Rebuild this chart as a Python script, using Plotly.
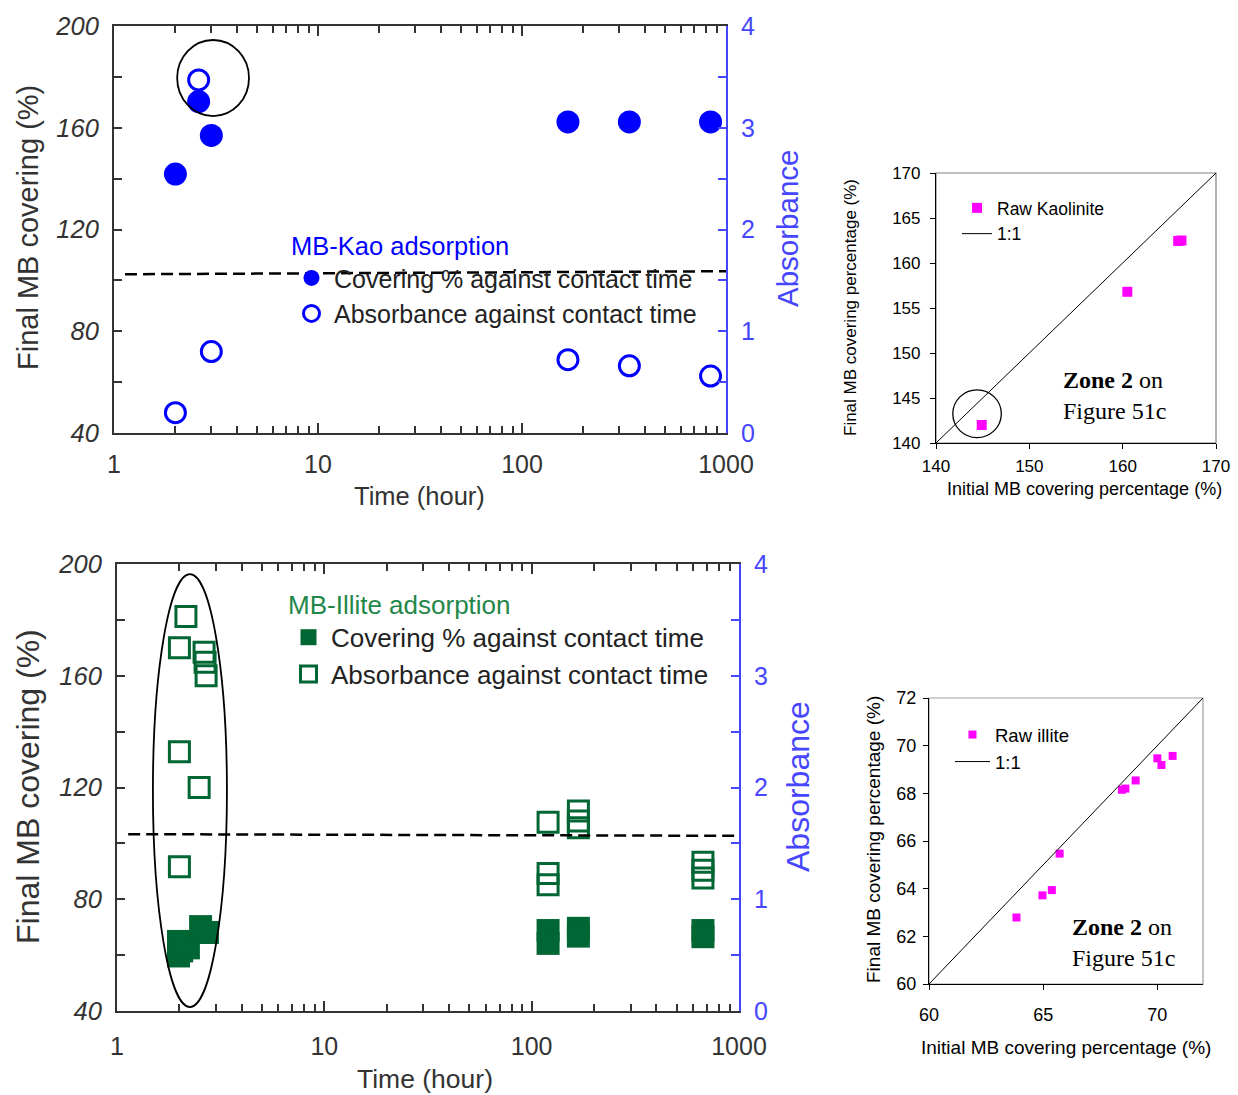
import plotly.graph_objects as go

# ---------------- data ----------------
# Top-left: MB-Kaolinite adsorption against contact time
kao_time = [2.0, 2.6, 3.0, 168, 336, 840]
kao_cover = [141.8, 170.3, 157.0, 162.3, 162.3, 162.3]
kao_abs_time = [2.0, 2.6, 3.0, 168, 336, 840]
kao_abs = [0.20, 3.47, 0.80, 0.72, 0.66, 0.56]

# Top-right: final vs initial covering, raw kaolinite
kao_initial = [144.9, 160.5, 165.95, 166.3]
kao_final = [142.0, 156.8, 162.45, 162.5]
kao_line = [140, 170]

# Bottom-left: MB-Illite adsorption against contact time
ill_time = [1.98, 1.98, 2.05, 2.21, 2.53, 2.73, 120, 120, 168, 168, 670, 670]
ill_cover = [64.9, 59.7, 61.5, 62.6, 70.2, 68.1, 68.8, 64.2, 69.6, 66.8, 68.8, 66.6]
ill_abs_time = [2.15, 2.0, 2.63, 2.66, 2.69, 2.0, 2.49, 2.0,
                120, 168, 168, 168, 120, 120, 670, 670, 670]
ill_abs = [3.53, 3.25, 3.21, 3.12, 3.00, 2.32, 2.00, 1.29,
           1.69, 1.79, 1.70, 1.64, 1.23, 1.13, 1.33, 1.26, 1.19]

# Bottom-right: final vs initial covering, raw illite
ill_initial = [63.83, 64.97, 65.38, 65.72, 68.45, 68.6, 69.05, 70.0, 70.18, 70.67]
ill_final = [62.79, 63.72, 63.94, 65.47, 68.15, 68.2, 68.54, 69.47, 69.19, 69.57]
ill_line = [60, 72]

# reference levels / highlight rings (data units)
kao_dash = [102.4, 103.6]
ill_dash = [103.3, 102.7]
kao_ring_time = [2.04, 4.59]
kao_ring_cover = [164.6, 194.5]
ill_ring_time = [1.49, 3.39]
ill_ring_cover = [41.4, 196.4]
kao_zone_ring_x = [141.8, 147.0]
kao_zone_ring_y = [140.6, 145.9]

# tick definitions
time_ticks = [1, 10, 100, 1000]
time_minor = [m * 10 ** d for d in range(3) for m in range(2, 10)]
cover_ticks = list(range(40, 201, 20))
abs_ticks = [0, 0.5, 1, 1.5, 2, 2.5, 3, 3.5, 4]

# ---------------- style ----------------
W, H = 1238, 1095
SANS = "Liberation Sans, Arial, sans-serif"
SERIF = "Liberation Serif, Times New Roman, serif"
BLUE = "#0000ff"
AXBLUE = "#4646ff"
GREEN = "#006633"
GREEN_TXT = "#23874a"
MAGENTA = "#ff00ff"
DARK = "#333333"


def px_x(p):
    return p / W


def px_y(p):
    return 1 - p / H


dom_tl = dict(x=[px_x(114), px_x(726)], y=[px_y(433), px_y(26)])
dom_tr = dict(x=[px_x(936), px_x(1216)], y=[px_y(443), px_y(173)])
dom_bl = dict(x=[px_x(117), px_x(739)], y=[px_y(1011), px_y(564)])
dom_br = dict(x=[px_x(929), px_x(1203)], y=[px_y(984), px_y(698)])

fig = go.Figure()

# ---- top-left traces
fig.add_trace(go.Scatter(
    x=kao_time, y=kao_cover, mode="markers", name="Covering % against contact time",
    marker=dict(symbol="circle", size=23, color=BLUE, line=dict(width=0)),
    xaxis="x", yaxis="y", legend="legend"))
fig.add_trace(go.Scatter(
    x=kao_abs_time, y=kao_abs, mode="markers", name="Absorbance against contact time",
    marker=dict(symbol="circle-open", size=20, color=BLUE, line=dict(width=3)),
    xaxis="x", yaxis="y2", legend="legend"))

# ---- top-right traces
fig.add_trace(go.Scatter(
    x=kao_initial, y=kao_final, mode="markers", name="Raw Kaolinite",
    marker=dict(symbol="square", size=10, color=MAGENTA),
    xaxis="x3", yaxis="y3", legend="legend2"))
fig.add_trace(go.Scatter(
    x=kao_line, y=kao_line, mode="lines", name="1:1",
    line=dict(color="black", width=1),
    xaxis="x3", yaxis="y3", legend="legend2"))

# ---- bottom-left traces
fig.add_trace(go.Scatter(
    x=ill_time, y=ill_cover, mode="markers", name="Covering % against contact time",
    marker=dict(symbol="square", size=23, color=GREEN, line=dict(width=0)),
    xaxis="x4", yaxis="y4", legend="legend3"))
fig.add_trace(go.Scatter(
    x=ill_abs_time, y=ill_abs, mode="markers", name="Absorbance against contact time",
    marker=dict(symbol="square-open", size=20, color=GREEN, line=dict(width=3)),
    xaxis="x4", yaxis="y5", legend="legend3"))

# ---- bottom-right traces
fig.add_trace(go.Scatter(
    x=ill_initial, y=ill_final, mode="markers", name="Raw illite",
    marker=dict(symbol="square", size=8, color=MAGENTA),
    xaxis="x6", yaxis="y6", legend="legend4"))
fig.add_trace(go.Scatter(
    x=ill_line, y=ill_line, mode="lines", name="1:1",
    line=dict(color="black", width=1),
    xaxis="x6", yaxis="y6", legend="legend4"))


def time_axis(dom, anchor, standoff):
    return dict(
        type="log", range=[0, 3], domain=dom, anchor=anchor, automargin=False,
        tickvals=time_ticks, ticktext=[str(t) for t in time_ticks],
        ticks="inside", ticklen=10, tickwidth=1.5, tickcolor=DARK,
        minor=dict(tickvals=time_minor, ticks="inside", ticklen=7,
                   tickwidth=1.5, tickcolor=DARK, showgrid=False),
        showline=True, linecolor=DARK, linewidth=2, mirror="ticks",
        showgrid=False, zeroline=False, ticklabelstandoff=standoff,
        tickfont=dict(family=SANS, size=25, color=DARK))


def cover_axis(dom, anchor):
    return dict(
        range=[40, 200], domain=dom, anchor=anchor, automargin=False,
        tickvals=cover_ticks,
        ticktext=[f"<i>{v}</i>" if v % 40 == 0 else "" for v in cover_ticks],
        ticks="inside", ticklen=8, tickwidth=1.5, tickcolor=DARK,
        showline=True, linecolor=DARK, linewidth=2, mirror=False,
        showgrid=False, zeroline=False, ticklabelstandoff=8,
        tickfont=dict(family=SANS, size=25.5, color=DARK))


def abs_axis(overlay, anchor):
    return dict(
        range=[0, 4], overlaying=overlay, side="right", anchor=anchor, automargin=False,
        tickvals=abs_ticks,
        ticktext=[str(int(v)) if v == int(v) else "" for v in abs_ticks],
        ticks="inside", ticklen=8, tickwidth=1.5, tickcolor=AXBLUE,
        showline=True, linecolor=AXBLUE, linewidth=2,
        showgrid=False, zeroline=False, ticklabelstandoff=8,
        tickfont=dict(family=SANS, size=25, color=AXBLUE))


def small_axis(dom, anchor, rng, vals, fsize, standoff):
    return dict(
        range=rng, domain=dom, anchor=anchor, tickvals=vals, automargin=False,
        ticktext=[str(v) for v in vals],
        ticks="outside", ticklen=5, tickwidth=1, tickcolor="black",
        showline=True, linecolor="black", linewidth=1.2, mirror=False,
        showgrid=False, zeroline=False, ticklabelstandoff=standoff,
        tickfont=dict(family=SANS, size=fsize, color="black"))


layout = dict(
    width=W, height=H, autosize=False,
    margin=dict(l=0, r=0, t=0, b=0, pad=0, autoexpand=False),
    paper_bgcolor="white", plot_bgcolor="rgba(0,0,0,0)",
    showlegend=True,
    xaxis=time_axis(dom_tl["x"], "y", 8),
    yaxis=cover_axis(dom_tl["y"], "x"),
    yaxis2=abs_axis("y", "x"),
    xaxis3=small_axis(dom_tr["x"], "y3", [140, 170], [140, 150, 160, 170], 17, 2),
    yaxis3=small_axis(dom_tr["y"], "x3", [140, 170], [140, 145, 150, 155, 160, 165, 170], 17, 6),
    xaxis4=time_axis(dom_bl["x"], "y4", 12),
    yaxis4=cover_axis(dom_bl["y"], "x4"),
    yaxis5=abs_axis("y4", "x4"),
    xaxis6=small_axis(dom_br["x"], "y6", [60, 72], [60, 65, 70], 18, 9),
    yaxis6=small_axis(dom_br["y"], "x6", [60, 72], [60, 62, 64, 66, 68, 70, 72], 18, 3),
    legend=dict(
        x=px_x(289), y=px_y(222), xanchor="left", yanchor="top", itemwidth=35,
        bgcolor="rgba(0,0,0,0)", borderwidth=0, tracegroupgap=0,
        title=dict(text="MB-Kao adsorption", font=dict(family=SANS, size=25.5, color=BLUE)),
        font=dict(family=SANS, size=25, color="#222222")),
    legend2=dict(
        x=px_x(957), y=px_y(190), xanchor="left", yanchor="top",
        bgcolor="rgba(0,0,0,0)", borderwidth=0, tracegroupgap=0,
        font=dict(family=SANS, size=17.5, color="black")),
    legend3=dict(
        x=px_x(286), y=px_y(580), xanchor="left", yanchor="top", itemwidth=35,
        bgcolor="rgba(0,0,0,0)", borderwidth=0, tracegroupgap=0,
        title=dict(text="MB-Illite adsorption", font=dict(family=SANS, size=26, color=GREEN_TXT)),
        font=dict(family=SANS, size=26, color="#222222")),
    legend4=dict(
        x=px_x(950), y=px_y(716), xanchor="left", yanchor="top", itemwidth=35,
        bgcolor="rgba(0,0,0,0)", borderwidth=0, tracegroupgap=0,
        font=dict(family=SANS, size=18.5, color="black")),
)
fig.update_layout(**layout)

# ---------------- shapes ----------------
shapes = [
    # dashed reference levels
    dict(type="line", xref="x domain", yref="y", x0=0.018, x1=1.0,
         y0=kao_dash[0], y1=kao_dash[1], line=dict(color="black", width=2.5, dash="12px,6px")),
    dict(type="line", xref="x4 domain", yref="y4", x0=0.018, x1=1.0,
         y0=ill_dash[0], y1=ill_dash[1], line=dict(color="black", width=2.5, dash="12px,6px")),
    # highlight rings
    dict(type="circle", xref="x", yref="y",
         x0=kao_ring_time[0], x1=kao_ring_time[1],
         y0=kao_ring_cover[0], y1=kao_ring_cover[1], line=dict(color="black", width=1.8)),
    dict(type="circle", xref="x4", yref="y4",
         x0=ill_ring_time[0], x1=ill_ring_time[1],
         y0=ill_ring_cover[0], y1=ill_ring_cover[1], line=dict(color="black", width=1.8)),
    dict(type="circle", xref="x3", yref="y3",
         x0=kao_zone_ring_x[0], x1=kao_zone_ring_x[1],
         y0=kao_zone_ring_y[0], y1=kao_zone_ring_y[1], line=dict(color="black", width=1.3)),
    # grey frames of the small panels
    dict(type="rect", xref="x3 domain", yref="y3 domain", x0=0, x1=1, y0=0, y1=1,
         line=dict(color="#808080", width=1.2), layer="below"),
    dict(type="rect", xref="x6 domain", yref="y6 domain", x0=0, x1=1, y0=0, y1=1,
         line=dict(color="#a0a0a0", width=1.2), layer="below"),
]
fig.update_layout(shapes=shapes)

# ---------------- annotations (axis titles, notes) ----------------
ann = []


def add_text(text, x, y, size, color, angle=0, family=SANS, xanchor="center", yanchor="middle",
             xref="paper", yref="paper", align="center"):
    ann.append(dict(text=text, x=x, y=y, xref=xref, yref=yref, showarrow=False,
                    textangle=angle, xanchor=xanchor, yanchor=yanchor, align=align,
                    font=dict(family=family, size=size, color=color)))


add_text("Final MB covering (%)", px_x(28), px_y(228), 29, DARK, angle=-90)
add_text("Absorbance", px_x(787), px_y(229), 29.5, AXBLUE, angle=-90)
add_text("Time (hour)", px_x(420), px_y(496), 25.5, DARK)
add_text("Final MB covering percentage (%)", px_x(850), px_y(308), 17, "black", angle=-90)
add_text("Initial MB covering percentage (%)", px_x(1084), px_y(489), 18, "black")
add_text("Final MB covering (%)", px_x(28), px_y(787), 32, DARK, angle=-90)
add_text("Absorbance", px_x(798), px_y(787), 32, AXBLUE, angle=-90)
add_text("Time (hour)", px_x(425), px_y(1079), 26.5, DARK)
add_text("Final MB covering percentage (%)", px_x(873), px_y(840), 19, "black", angle=-90)
add_text("Initial MB covering percentage (%)", px_x(1066), px_y(1047), 19, "black")
add_text("<b>Zone 2</b> on<br>Figure 51c", 153.4, 145.3, 24, "black", family=SERIF,
         xanchor="left", xref="x3", yref="y3", align="left")
add_text("<b>Zone 2</b> on<br>Figure 51c", 66.17, 61.73, 24, "black", family=SERIF,
         xanchor="left", xref="x6", yref="y6", align="left")
fig.update_layout(annotations=ann)

fig.write_html(
    "out.html",
    config={"displayModeBar": False},
    post_script="document.body.style.margin='0px';document.body.style.padding='0px';"
                "document.body.style.overflow='hidden';")
